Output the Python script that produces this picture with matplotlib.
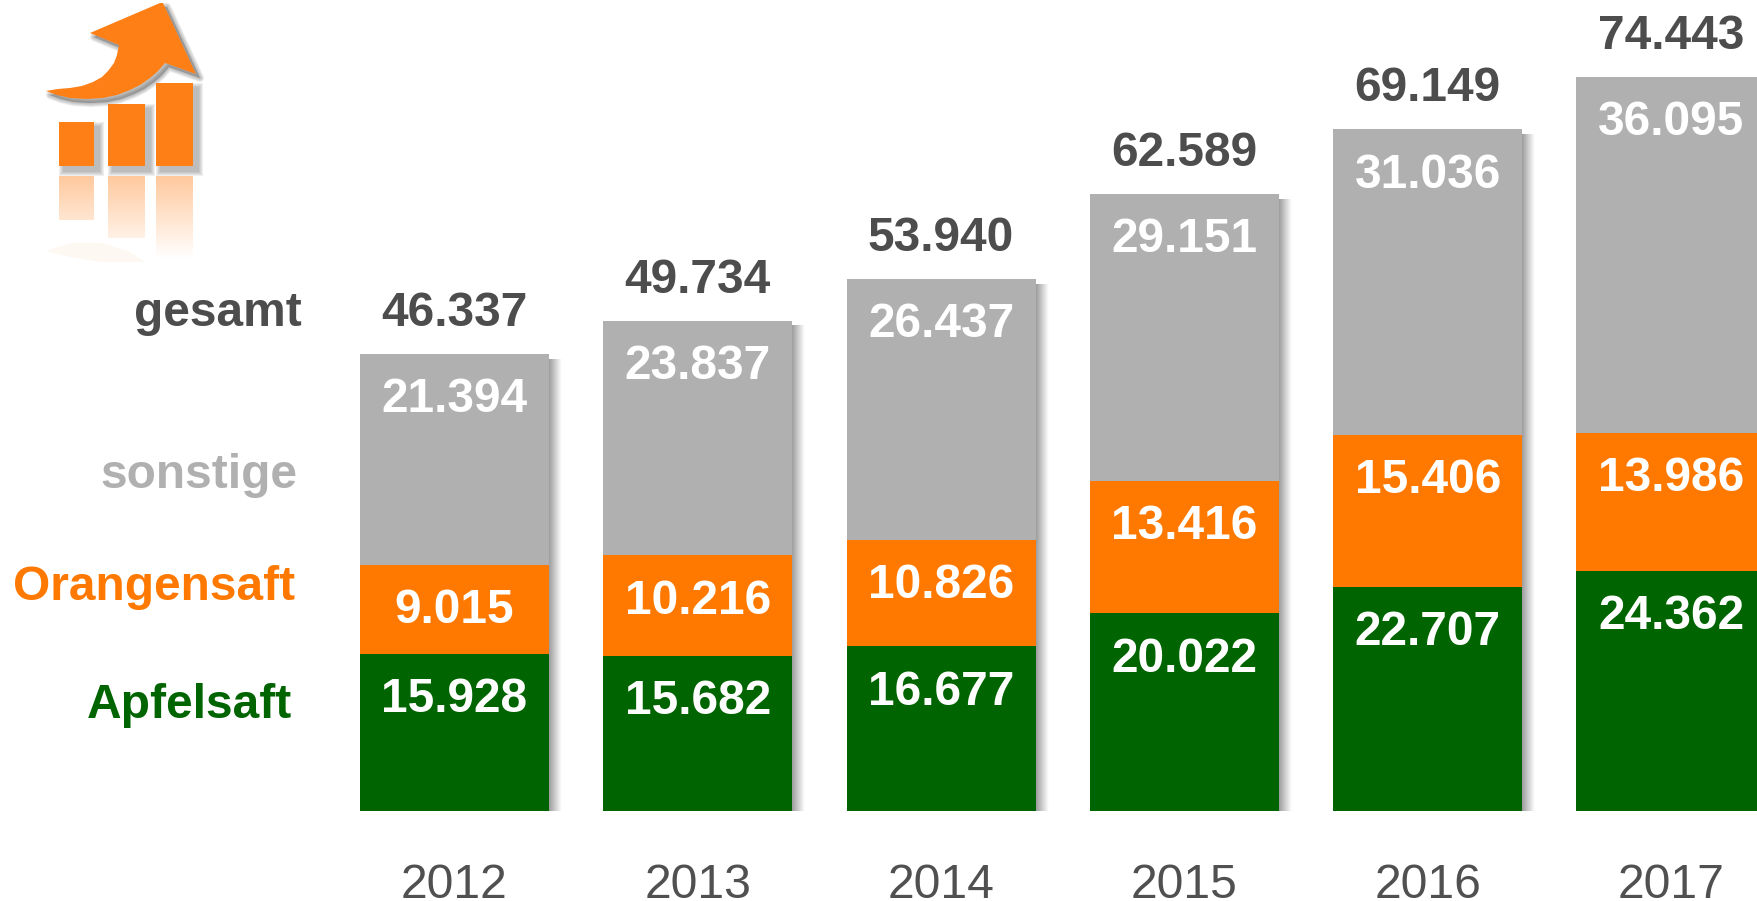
import numpy as np
import matplotlib
matplotlib.use('Agg')
import matplotlib.pyplot as plt
from matplotlib.patches import Polygon, Rectangle

plt.rcParams['font.family'] = ['Liberation Sans', 'DejaVu Sans']

years = ['2012', '2013', '2014', '2015', '2016', '2017']
apfelsaft = [15928, 15682, 16677, 20022, 22707, 24362]
orangensaft = [9015, 10216, 10826, 13416, 15406, 13986]
sonstige = [21394, 23837, 26437, 29151, 31036, 36095]
gesamt = [46337, 49734, 53940, 62589, 69149, 74443]
labels = ['gesamt', 'sonstige', 'Orangensaft', 'Apfelsaft']

GREEN = '#006400'
ORANGE = '#ff7900'
GREY = '#b0b0b0'
DARK = '#4d4d4d'
ICON = '#ff7f17'

W, H = 1758, 901
STEP = 243.3
fig = plt.figure(figsize=(W / 100, H / 100), dpi=100)
ax = fig.add_axes([0, 0, 1, 1])

x = np.arange(len(years))
width = 189 / STEP
bottom2 = np.array(apfelsaft)
bottom3 = bottom2 + np.array(orangensaft)

# soft shadow right of each bar
fade = np.linspace(0.62, 1, 24).reshape(1, -1)
for i, total in zip(x, gesamt):
    ax.imshow(fade, extent=(i + width / 2, i + width / 2 + 13 / STEP, 0, total - 500),
              cmap='gray', vmin=0, vmax=1, aspect='auto', zorder=1, interpolation='bilinear')

ax.bar(x, apfelsaft, width, color=GREEN, zorder=2)
ax.bar(x, orangensaft, width, bottom=bottom2, color=ORANGE, zorder=2)
ax.bar(x, sonstige, width, bottom=bottom3, color=GREY, zorder=2)

ax.set_xlim(-454.5 / STEP, (W - 454.5) / STEP)
ax.set_ylim(-90.3 / 0.009856, 810.7 / 0.009856)
ax.axis('off')

# value labels hang below the top of each segment
for i in x:
    tops = [apfelsaft[i], bottom3[i], gesamt[i]]
    values = [apfelsaft[i], orangensaft[i], sonstige[i]]
    for top, val in zip(tops, values):
        ax.annotate(f'{val:,}'.replace(',', '.'), (i, top), xytext=(0, -33), textcoords='offset points',
                    ha='center', va='center', color='white', fontsize=34.5, fontweight='bold', zorder=3)
    ax.annotate(f'{gesamt[i]:,}'.replace(',', '.'), (i, gesamt[i]), xytext=(0, 29), textcoords='offset points',
                ha='center', va='center', color=DARK, fontsize=34.5, fontweight='bold', zorder=3)
    ax.annotate(years[i], (i, 0), xytext=(0, -62.5), textcoords='offset points',
                ha='center', va='baseline', color='#505050', fontsize=34.7, zorder=3)

# overlay in pixel coordinates for the legend words and the icon
px = fig.add_axes([0, 0, 1, 1], facecolor='none')
px.set_xlim(0, W)
px.set_ylim(H, 0)
px.axis('off')

label_pos = [(302, 313), (297, 475), (295, 587), (292, 705)]
label_colors = [DARK, GREY, ORANGE, GREEN]
for name, (lx, ly), col in zip(labels, label_pos, label_colors):
    px.text(lx, ly, name, ha='right', va='center', color=col, fontsize=34.5, fontweight='bold')

arrow = [(46, 91), (58, 89), (70, 88), (82, 86), (93, 82), (102, 77), (108, 71), (114, 63), (117, 55),
         (119, 45), (90, 33), (160, 3), (163, 3), (196, 74), (165, 63), (157, 72), (150, 78), (140, 85),
         (130, 90), (117, 95), (103, 98), (87, 99), (70, 98), (57, 95)]
arrow_reflection = [(46, 251), (70, 243), (103, 243), (130, 252), (145, 262), (100, 262), (70, 257)]
icon_bars = [(59, 122, 94, 166), (108, 104, 145, 166), (156, 83, 193, 166)]
reflect_ends = [220, 238, 258]

# layered translucent copies make the blurred icon shadow
for k in range(5, 0, -1):
    a = 0.09
    for x0, y0, x1, y1 in icon_bars:
        px.add_patch(Rectangle((x0 + 5 - k, y0 + 5 - k), x1 - x0 + 2 * k, y1 - y0 + 2 * k,
                               color='#555555', alpha=a, lw=0, zorder=1))
    px.add_patch(Polygon([(ax_ + 4, ay_ + 4) for ax_, ay_ in arrow], closed=True, facecolor='#555555',
                         edgecolor='#555555', linewidth=k * 1.2, alpha=a, joinstyle='round', zorder=1))

px.add_patch(Polygon(arrow, closed=True, color=ICON, lw=0, zorder=2))
for x0, y0, x1, y1 in icon_bars:
    px.add_patch(Rectangle((x0, y0), x1 - x0, y1 - y0, color=ICON, lw=0, zorder=2))

# faded reflection below the icon: one gradient from y=176 down to y=260, cut off per bar
px.add_patch(Polygon(arrow_reflection, closed=True, color='#fef8f3', lw=0, zorder=1))
for (x0, y0, x1, y1), end in zip(icon_bars, reflect_ends):
    n = 32
    grad = np.ones((n, 1, 4))
    grad[..., :3] = matplotlib.colors.to_rgb(ICON)
    grad[..., 3] = np.linspace(0.42, 0.42 * (260 - end) / 84, n).reshape(-1, 1)
    px.imshow(grad, extent=(x0, x1, end, 176), aspect='auto', zorder=2, interpolation='bilinear')
px.set_xlim(0, W)
px.set_ylim(H, 0)

fig.savefig('out.png', dpi=100)
